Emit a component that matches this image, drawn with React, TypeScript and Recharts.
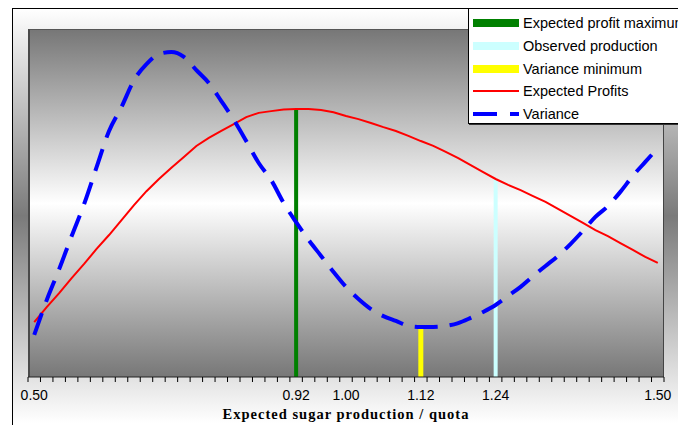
import React from 'react';
import {
  ComposedChart,
  Line,
  XAxis,
  YAxis,
  ReferenceLine,
  Legend
} from 'recharts';

// expected production / quota (category values of the x axis)
const quotaRatios = [
  0.5, 0.52, 0.54, 0.56, 0.58, 0.6, 0.62, 0.64, 0.66, 0.68,
  0.7, 0.72, 0.74, 0.76, 0.78, 0.8, 0.82, 0.84, 0.86, 0.88,
  0.9, 0.92, 0.94, 0.96, 0.98, 1.0, 1.02, 1.04, 1.06, 1.08,
  1.1, 1.12, 1.14, 1.16, 1.18, 1.2, 1.22, 1.24, 1.26, 1.28,
  1.3, 1.32, 1.34, 1.36, 1.38, 1.4, 1.42, 1.44, 1.46, 1.48, 1.5
];

// no y scale shown in the source, values are relative (0 - 100)
const expectedProfits = [
  15.8, 20.1, 24.1, 28.4, 32.5, 36.8, 40.8, 45.1, 49.4, 53.4,
  56.9, 60.1, 63.2, 66.4, 68.7, 70.7, 72.7, 74.7, 75.9, 76.4,
  76.9, 77.0, 77.0, 76.7, 76.1, 75.0, 74.1, 73.0, 71.8, 70.7,
  69.3, 67.8, 66.4, 64.7, 62.9, 60.9, 58.9, 56.9, 55.2, 53.7,
  52.0, 50.3, 48.3, 46.3, 44.3, 42.2, 40.5, 38.5, 36.5, 34.5, 32.8
];

const variance = [
  12.1, 22.1, 31.0, 40.5, 49.7, 60.3, 70.7, 77.6, 85.3, 89.9,
  92.8, 93.4, 92.0, 88.2, 84.5, 79.3, 73.9, 67.8, 61.5, 56.6,
  50.0, 44.5, 39.4, 34.8, 30.2, 25.9, 22.4, 19.5, 17.5, 16.1,
  14.7, 14.4, 14.4, 14.7, 15.5, 17.0, 18.7, 20.7, 23.3, 25.9,
  29.0, 31.9, 34.8, 38.2, 42.0, 46.0, 49.1, 53.2, 57.8, 61.8, 65.8
];

const labelTicks = [0.5, 0.92, 1.0, 1.12, 1.24, 1.5];

// vertical markers: name, position and which curve they reach up to
const markerNames = ['Expected profit maximum', 'Observed production', 'Variance minimum'];
const markerRatios = [0.92, 1.24, 1.12];
const markerSeries = ['profit', 'profit', 'variance'];

const markerColors = ['#008000', '#CCFFFF', '#FFFF00'];
const markerWidths = [4, 4, 5];

const rows = quotaRatios.map((x, i) => ({
  x,
  profit: expectedProfits[i],
  variance: variance[i]
}));

// tick marks sit between categories (every 0.02, offset by half a step)
const boundaryTicks = Array.from({ length: quotaRatios.length + 1 }, (_, i) =>
  +(quotaRatios[0] - 0.01 + i * 0.02).toFixed(2)
);

const valueAt = (x: number, key: string) => {
  const row: any = rows.find(r => r.x === x);
  return row ? row[key] : 0;
};

const renderLegend = () => (
  <div
    style={{
      background: '#fff',
      border: '1px solid #000',
      boxShadow: '1px 1px 0 #333',
      width: 240,
      height: 116,
      boxSizing: 'border-box',
      paddingTop: 3,
      fontFamily: '"Liberation Sans", Arial, sans-serif',
      fontSize: 14.5,
      color: '#000'
    }}
  >
    {markerNames.map((name, i) => (
      <div key={name} style={{ height: 22.7, display: 'flex', alignItems: 'center' }}>
        <div style={{ width: 46, height: 8, marginLeft: 4, marginRight: 4, background: markerColors[i] }} />
        <span style={{ whiteSpace: 'nowrap' }}>{name}</span>
      </div>
    ))}
    <div style={{ height: 22.7, display: 'flex', alignItems: 'center' }}>
      <svg width={46} height={8} style={{ marginLeft: 4, marginRight: 4 }}>
        <line x1={0} y1={4} x2={46} y2={4} stroke="#FF0000" strokeWidth={2} />
      </svg>
      <span>Expected Profits</span>
    </div>
    <div style={{ height: 22.7, display: 'flex', alignItems: 'center' }}>
      <svg width={46} height={8} style={{ marginLeft: 4, marginRight: 4 }}>
        <line x1={0} y1={4} x2={46} y2={4} stroke="#0000FF" strokeWidth={4} strokeDasharray="24 13" />
      </svg>
      <span>Variance</span>
    </div>
  </div>
);

// keeps the tick marks but draws no label
const NoLabel = () => <g />;

export default function App() {
  return (
    <div style={{ position: 'absolute', left: 0, top: 0, width: 678, height: 425, overflow: 'hidden', background: '#fff' }}>
      {/* outer chart area */}
      <div
        style={{
          position: 'absolute',
          left: 12,
          top: 8,
          width: 720,
          height: 440,
          border: '1px solid #000',
          background: 'linear-gradient(to bottom, #ffffff 0px, #7a7a7a 207px, #ffffff 414px, #ffffff 440px)'
        }}
      />
      {/* plot area */}
      <div
        style={{
          position: 'absolute',
          left: 28,
          top: 29,
          width: 636,
          height: 348,
          boxSizing: 'border-box',
          borderLeft: '2px solid #4a4a4a',
          borderTop: '1px solid #555',
          borderRight: '1px solid #444',
          background: 'linear-gradient(to bottom, #777777 0%, #ffffff 50%, #777777 100%)'
        }}
      />
      <div style={{ position: 'absolute', left: 0, top: 0 }}>
        <ComposedChart
          width={678}
          height={425}
          data={rows}
          margin={{ top: 29, right: 14, bottom: 0, left: 28 }}
        >
          <XAxis
            dataKey="x"
            type="number"
            domain={[0.49, 1.51]}
            ticks={boundaryTicks}
            interval={0}
            tick={NoLabel}
            tickSize={5}
            height={5}
            axisLine={{ stroke: '#222' }}
            tickLine={{ stroke: '#000' }}
          />
          <XAxis
            xAxisId="labels"
            dataKey="x"
            type="number"
            domain={[0.49, 1.51]}
            ticks={labelTicks}
            interval={0}
            axisLine={false}
            tickLine={false}
            height={43}
            tickFormatter={(v: number) => v.toFixed(2)}
            tick={{ fill: '#000', fontSize: 14, fontFamily: '"Liberation Sans", Arial, sans-serif' }}
            label={{
              value: 'Expected sugar production / quota',
              position: 'insideBottom',
              offset: 6,
              style: {
                fill: '#000',
                fontSize: 14.5,
                fontWeight: 'bold',
                letterSpacing: 1,
                fontFamily: '"Liberation Serif", "Times New Roman", serif'
              }
            }}
          />
          <YAxis type="number" domain={[0, 100]} hide />

          {markerRatios.map((x, i) => (
            <ReferenceLine
              key={markerNames[i]}
              segment={[{ x, y: 0 }, { x, y: valueAt(x, markerSeries[i]) }]}
              stroke={markerColors[i]}
              strokeWidth={markerWidths[i]}
              ifOverflow="visible"
            />
          ))}

          <Line
            dataKey="profit"
            name="Expected Profits"
            type="linear"
            stroke="#FF0000"
            strokeWidth={2}
            dot={false}
            activeDot={false}
            isAnimationActive={false}
          />
          <Line
            dataKey="variance"
            name="Variance"
            type="monotone"
            stroke="#0000FF"
            strokeWidth={4}
            strokeDasharray="23 12"
            dot={false}
            activeDot={false}
            isAnimationActive={false}
          />

          <Legend
            content={renderLegend}
            layout="horizontal"
            verticalAlign="middle"
            align="center"
            wrapperStyle={{ left: 468, top: 8, width: 240 }}
          />
        </ComposedChart>
      </div>
    </div>
  );
}
